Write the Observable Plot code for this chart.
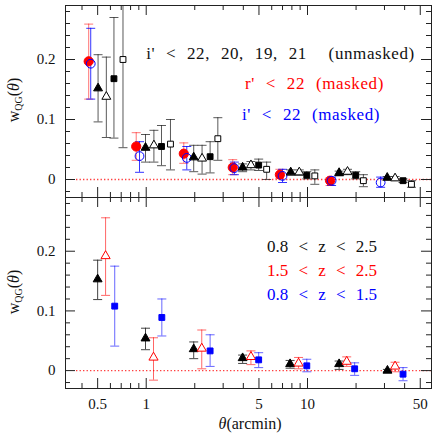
<!DOCTYPE html>
<html><head><meta charset="utf-8">
<script src="https://cdn.jsdelivr.net/npm/d3@7"></script>
<script src="https://cdn.jsdelivr.net/npm/@observablehq/plot@0.6"></script>
<style>
body{margin:0;background:#fff;}
#wrap{position:relative;width:439px;height:436px;font-family:"Liberation Serif","DejaVu Serif",serif;color:#111;}
#wrap svg{position:absolute;left:0;display:block;}
#wrap svg g[aria-label="text"] text{word-spacing:6px;}
#wrap svg.toppanel g[aria-label="text"] text{letter-spacing:0.6px;}
.lab{position:absolute;white-space:nowrap;font-size:16px;line-height:1;}
.ylab{transform:translate(-50%,-50%) rotate(-90deg);}
.ylab sub{font-size:10px;vertical-align:-3px;}
.xlab{transform:translate(-50%,-50%);}
</style></head>
<body><div id="wrap"></div>
<script>
// ---------- data ----------
// Top panel: red filled circles  r' < 22 (masked)
const topRedX  = [0.44, 0.867, 1.71, 3.44, 6.74, 13.8];
const topRedY  = [0.197, 0.055, 0.043, 0.020, 0.008, -0.002];
const topRedLo = [0.134, 0.032, 0.027, 0.008, 0.002, -0.010];
const topRedHi = [0.259, 0.078, 0.061, 0.033, 0.017, 0.003];
// Top panel: blue open circles  i' < 22 (masked)
const topBlueX  = [0.453, 0.909, 1.785, 3.52, 7.0, 14.1, 28.4];
const topBlueY  = [0.193, 0.039, 0.036, 0.019, 0.006, -0.002, -0.005];
const topBlueLo = [0.134, 0.012, 0.016, 0.008, -0.005, -0.010, -0.013];
const topBlueHi = [0.252, 0.063, 0.055, 0.029, 0.017, 0.004, 0.004];
// Top panel: unmasked i' < 22 (filled triangle)
const i22X  = [0.503, 0.99, 1.97, 3.96, 7.87, 15.7, 31.2];
const i22Y  = [0.152, 0.053, 0.037, 0.020, 0.012, 0.011, 0.003];
const i22Lo = [0.096, 0.029, 0.013, 0.013, 0.007, 0.006, 0.001];
const i22Hi = [0.208, 0.075, 0.057, 0.026, 0.016, 0.014, 0.005];
// i' < 20 (open triangle)
const i20X  = [0.566, 1.116, 2.22, 4.46, 8.89, 17.7, 34.9];
const i20Y  = [0.138, 0.057, 0.035, 0.024, 0.012, 0.013, 0.002];
const i20Lo = [0.070, 0.029, 0.009, 0.016, 0.007, 0.008, -0.001];
const i20Hi = [0.204, 0.082, 0.057, 0.030, 0.016, 0.017, 0.005];
// i' < 19 (filled square)
const i19X  = [0.631, 1.244, 2.49, 4.98, 9.9, 19.9, 39.1];
const i19Y  = [0.168, 0.055, 0.038, 0.024, 0.007, 0.007, -0.002];
const i19Lo = [0.069, 0.023, 0.011, 0.015, 0.001, 0.001, -0.005];
const i19Hi = [0.270, 0.090, 0.063, 0.034, 0.013, 0.013, 0.001];
// i' < 21 (open square)
const i21X  = [0.718, 1.414, 2.78, 5.58, 11.1, 22.2, 44.1];
const i21Y  = [0.200, 0.059, 0.068, 0.017, 0.006, -0.002, -0.008];
const i21Lo = [0.053, 0.016, 0.032, 0.000, -0.008, -0.012, -0.013];
const i21Hi = [0.350, 0.100, 0.103, 0.029, 0.016, 0.008, -0.002];

// Bottom panel: 0.8 < z < 2.5 (black filled triangle)
const zAllX  = [0.5, 0.99, 1.97, 3.96, 7.8, 15.7, 31.3];
const zAllY  = [0.153, 0.054, 0.036, 0.021, 0.011, 0.011, 0.000];
const zAllLo = [0.119, 0.035, 0.020, 0.012, 0.004, 0.002, -0.002];
const zAllHi = [0.185, 0.071, 0.048, 0.026, 0.017, 0.016, 0.002];
// 1.5 < z < 2.5 (red open triangle)
const zHiX  = [0.56, 1.11, 2.21, 4.46, 8.8, 17.5, 34.9];
const zHiY  = [0.192, 0.022, 0.037, 0.023, 0.012, 0.015, 0.007];
const zHiLo = [0.126, -0.016, 0.003, 0.010, 0.003, 0.007, -0.002];
const zHiHi = [0.256, 0.055, 0.068, 0.033, 0.022, 0.023, 0.014];
// 0.8 < z < 1.5 (blue filled square)
const zLoX  = [0.638, 1.25, 2.49, 4.98, 9.9, 19.6, 39.1];
const zLoY  = [0.108, 0.089, 0.033, 0.018, 0.008, 0.003, -0.006];
const zLoLo = [0.041, 0.058, 0.007, 0.005, -0.002, -0.008, -0.017];
const zLoHi = [0.175, 0.120, 0.060, 0.030, 0.019, 0.013, 0.005];

// axes / ticks
const xDomain = [0.316, 58.7];
const yDomain = [-0.03, 0.29];
const xMajor = [0.5, 1, 5, 10, 50];
const xMinor = [0.4, 0.6, 0.7, 0.8, 0.9, 2, 3, 4, 6, 7, 8, 9, 20, 30, 40];
const yMajor = [0, 0.1, 0.2];
const yMinor = [-0.02, 0.02, 0.04, 0.06, 0.08, 0.12, 0.14, 0.16, 0.18, 0.22, 0.24, 0.26, 0.28];
const zeroLine = [0.37, 58.7];

const topLabels = ["i' < 22, 20, 19, 21  (unmasked)", "r' < 22 (masked)", "i' < 22 (masked)"];
const botLabels = ["0.8 < z < 2.5", "1.5 < z < 2.5", "0.8 < z < 1.5"];

// ---------- helpers ----------
const rows = (xs, ys, lo, hi) => xs.map((x, i) => ({x, y: ys[i], lo: lo[i], hi: hi[i]}));
const capSymbol = {draw(ctx, size) { const w = Math.sqrt(size / Math.PI); ctx.moveTo(-w, 0); ctx.lineTo(w, 0); }};

function errMarks(data, color, op) {
  return [
    Plot.ruleX(data, {x: "x", y1: "lo", y2: "hi", stroke: color, strokeOpacity: op, strokeWidth: 1, clip: true}),
    Plot.dot(data, {x: "x", y: "lo", symbol: capSymbol, r: 4.5, stroke: color, strokeOpacity: op, strokeWidth: 1, fill: "none", clip: true}),
    Plot.dot(data, {x: "x", y: "hi", symbol: capSymbol, r: 4.5, stroke: color, strokeOpacity: op, strokeWidth: 1, fill: "none", clip: true})
  ];
}
function pts(data, symbol, r, fill, stroke) {
  return Plot.dot(data, {x: "x", y: "y", symbol, r, fill, stroke, strokeWidth: 1});
}
function frameTicks(H, W) {
  const c = "#222";
  return [
    Plot.tickX(xMajor, {x: d => d, insetTop: H - 10, stroke: c}),
    Plot.tickX(xMajor, {x: d => d, insetBottom: H - 10, stroke: c}),
    Plot.tickX(xMinor, {x: d => d, insetTop: H - 5, stroke: c}),
    Plot.tickX(xMinor, {x: d => d, insetBottom: H - 5, stroke: c}),
    Plot.tickY(yMajor, {y: d => d, insetRight: W - 10, stroke: c}),
    Plot.tickY(yMajor, {y: d => d, insetLeft: W - 10, stroke: c}),
    Plot.tickY(yMinor, {y: d => d, insetRight: W - 5, stroke: c}),
    Plot.tickY(yMinor, {y: d => d, insetLeft: W - 5, stroke: c}),
    Plot.frame({stroke: c, strokeWidth: 1})
  ];
}
const yAxis = () => Plot.axisY({ticks: yMajor, tickSize: 0, tickPadding: 10, label: null,
  tickFormat: d => d === 0 ? "0" : d.toFixed(1), fontSize: 15});
const zero = () => Plot.ruleY([0], {x1: zeroLine[0], x2: zeroLine[1], stroke: "#ff3535", strokeWidth: 1.3, strokeDasharray: "1.3,2.2"});

const W = 439, mL = 65, mR = 8;
const FW = W - mL - mR;
const style = {fontFamily: "'Liberation Serif','DejaVu Serif',serif", fontSize: "15px", background: "white", overflow: "visible"};
const legend = (label, dx, dy, fill) => Plot.text([label], {text: d => d, frameAnchor: "top-left", dx, dy,
  textAnchor: "middle", lineAnchor: "middle", fill, fontSize: 17});

// ---------- top panel ----------
const topH = 197, topMT = 5, topMB = 0;
const topFH = topH - topMT - topMB;
const topPlot = Plot.plot({
  width: W, height: topH, marginLeft: mL, marginRight: mR, marginTop: topMT, marginBottom: topMB,
  style,
  x: {type: "log", domain: xDomain, axis: null},
  y: {domain: yDomain},
  marks: [
    zero(),
    ...errMarks(rows(topRedX, topRedY, topRedLo, topRedHi), "#ff0000", 0.55),
    ...errMarks(rows(topBlueX, topBlueY, topBlueLo, topBlueHi), "#0000ff", 0.8),
    ...errMarks(rows(i22X, i22Y, i22Lo, i22Hi), "#222", 0.75),
    ...errMarks(rows(i20X, i20Y, i20Lo, i20Hi), "#222", 0.75),
    ...errMarks(rows(i19X, i19Y, i19Lo, i19Hi), "#222", 0.75),
    ...errMarks(rows(i21X, i21Y, i21Lo, i21Hi), "#222", 0.75),
    pts(rows(topRedX, topRedY, topRedLo, topRedHi), "circle", 4.6, "#ff0000", "#ff0000"),
    pts(rows(topBlueX, topBlueY, topBlueLo, topBlueHi), "circle", 4.4, "none", "#0000ff"),
    pts(rows(i22X, i22Y, i22Lo, i22Hi), "triangle", 3.3, "black", "black"),
    pts(rows(i20X, i20Y, i20Lo, i20Hi), "triangle", 3.3, "white", "black"),
    pts(rows(i19X, i19Y, i19Lo, i19Hi), "square", 3.3, "black", "black"),
    pts(rows(i21X, i21Y, i21Lo, i21Hi), "square", 3.3, "white", "black"),
    yAxis(),
    ...frameTicks(topFH, FW),
    legend(topLabels[0], 215, 48, "#111"),
    legend(topLabels[1], 249, 78, "#ff0000"),
    legend(topLabels[2], 245.5, 109, "#0000ff")
  ]
});
topPlot.classList.add("toppanel");
topPlot.style.top = "0px";

// ---------- bottom panel ----------
const botH = 239, botMT = 0, botMB = 48;
const botFH = botH - botMT - botMB;
const botPlot = Plot.plot({
  width: W, height: botH, marginLeft: mL, marginRight: mR, marginTop: botMT, marginBottom: botMB,
  style,
  x: {type: "log", domain: xDomain},
  y: {domain: yDomain},
  marks: [
    zero(),
    ...errMarks(rows(zAllX, zAllY, zAllLo, zAllHi), "#222", 0.85),
    ...errMarks(rows(zHiX, zHiY, zHiLo, zHiHi), "#ff0000", 0.6),
    ...errMarks(rows(zLoX, zLoY, zLoLo, zLoHi), "#0000ff", 0.6),
    pts(rows(zAllX, zAllY, zAllLo, zAllHi), "triangle", 3.3, "black", "black"),
    pts(rows(zHiX, zHiY, zHiLo, zHiHi), "triangle", 3.4, "white", "#ff0000"),
    pts(rows(zLoX, zLoY, zLoLo, zLoHi), "square", 3.3, "#0000ff", "#0000ff"),
    yAxis(),
    Plot.axisX({ticks: xMajor, tickSize: 0, tickPadding: 10, label: null, tickFormat: d => String(d), fontSize: 15}),
    ...frameTicks(botFH, FW),
    legend(botLabels[0], 256.5, 49, "#111"),
    legend(botLabels[1], 256.5, 73, "#ff0000"),
    legend(botLabels[2], 256.5, 97, "#0000ff")
  ]
});
botPlot.style.top = topH + "px";

const wrap = document.getElementById("wrap");
wrap.appendChild(topPlot);
wrap.appendChild(botPlot);

function addLabel(html, cls, left, top) {
  const d = document.createElement("div");
  d.className = "lab " + cls;
  d.innerHTML = html;
  d.style.left = left + "px";
  d.style.top = top + "px";
  wrap.appendChild(d);
}
addLabel("w<sub>QG</sub>(<i>θ</i>)", "ylab", 15, 100);
addLabel("w<sub>QG</sub>(<i>θ</i>)", "ylab", 15, 292);
addLabel("<i>θ</i>(arcmin)", "xlab", 250, 424);
</script>
</body></html>
